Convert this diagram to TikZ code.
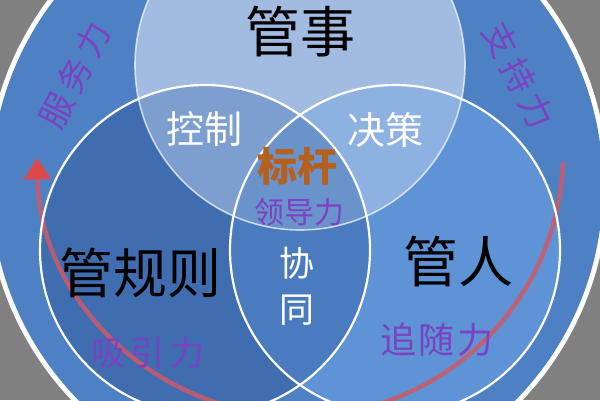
\documentclass[tikz,border=0pt]{standalone}
\usepackage{fontspec}
\newfontfamily\cjk{Noto Sans CJK SC}
\usetikzlibrary{arrows.meta}
\newcommand{\myfs}[1]{\fontsize{#1}{#1}\selectfont}
\definecolor{bggray}{HTML}{808080}
\definecolor{ringblue}{HTML}{4E81C3}
\definecolor{topc}{HTML}{A2BCE1}
\definecolor{leftc}{HTML}{3F6DB0}
\definecolor{rightc}{HTML}{5E94D5}
\definecolor{lrc}{HTML}{4A7BBE}
\definecolor{tlc}{HTML}{7C9FD0}
\definecolor{trc}{HTML}{8DB1E1}
\definecolor{triplec}{HTML}{6B93CB}
\definecolor{txtpurple}{HTML}{7B42C2}
\definecolor{txtbrown}{HTML}{B5601C}
\definecolor{arcred}{HTML}{CC5A6A}
\definecolor{tipred}{HTML}{E04848}
\tikzset{
  lbl/.style={inner sep=0pt, font=\cjk},
  ringtxt/.style={lbl, text=txtpurple, font=\cjk\myfs{34pt}},
  circline/.style={draw=white, line width=2.2pt},
  topline/.style={draw=white, draw opacity=0.65, line width=1.6pt},
}
\begin{document}
\begin{tikzpicture}[x=1pt,y=1pt]
\useasboundingbox (0,0) rectangle (600,400);
\clip (0,0) rectangle (600,400);
\coordinate (O) at (297,214);
\coordinate (T) at (300,335);
\coordinate (L) at (205,150);
\coordinate (R) at (395,150);
\coordinate (A) at (300,247);
% background
\fill[bggray] (0,0) rectangle (600,400);
\fill[white] (O) circle[radius=311];
\fill[ringblue] (O) circle[radius=306];
% regions
\fill[rightc] (R) circle[radius=165];
\fill[leftc] (L) circle[radius=165];
\begin{scope}
  \clip (L) circle[radius=165];
  \fill[lrc] (R) circle[radius=165];
\end{scope}
\fill[topc] (T) circle[radius=165];
\begin{scope}
  \clip (T) circle[radius=165];
  \fill[tlc] (L) circle[radius=165];
  \fill[trc] (R) circle[radius=165];
  \clip (L) circle[radius=165];
  \fill[triplec] (R) circle[radius=165];
\end{scope}
% red arc
\coordinate (arcstart) at ([shift={(-2:263)}]A);
\draw[draw=arcred, draw opacity=0.85, line width=4.5pt,
      -{Triangle[length=22pt,width=27pt,fill=tipred,color=tipred]}]
  (arcstart) arc[start angle=-2, end angle=-179, radius=263];
% outlines
\draw[topline] (T) circle[radius=165];
\draw[circline] (L) circle[radius=165];
\draw[circline] (R) circle[radius=165];
% texts
\node[lbl, font=\cjk\myfs{55pt}] (gs) at (300,368) {管事};
\node[lbl, text=white, font=\cjk\myfs{38pt}] (kz) at (204,271) {控制};
\node[lbl, text=white, font=\cjk\myfs{38pt}] (jc) at (385,270) {决策};
\node[lbl, text=txtbrown, font=\cjk\bfseries\myfs{40pt}] (bg) at (297,234) {标杆};
\node[lbl, text=txtpurple, font=\cjk\myfs{30pt}] (ldl) at (299,188) {领导力};
\node[lbl, text=white, font=\cjk\myfs{35pt}, align=center] (xt) at (297,114) {协\\[11pt]同};
\node[lbl, font=\cjk\myfs{54pt}] (ggz) at (140,127) {管规则};
\node[lbl, font=\cjk\myfs{55pt}] (gr) at (458,138) {管人};
\node[lbl, text=txtpurple, font=\cjk\myfs{34pt}] (xyl) at (148,47) {吸\hspace{6pt}引\hspace{6pt}力};
\node[lbl, text=txtpurple, font=\cjk\myfs{36pt}] (zsl) at (437,60) {追\hspace{3pt}随\hspace{3pt}力};
% ring texts
\node[ringtxt, rotate=63] (fwl) at ([shift={(153.5:248)}]O) {服\hspace{6pt}务\hspace{6pt}力};
\node[ringtxt, rotate=-63] (zcl) at ([shift={(26.5:248)}]O) {支\hspace{6pt}持\hspace{6pt}力};
\end{tikzpicture}
\end{document}
